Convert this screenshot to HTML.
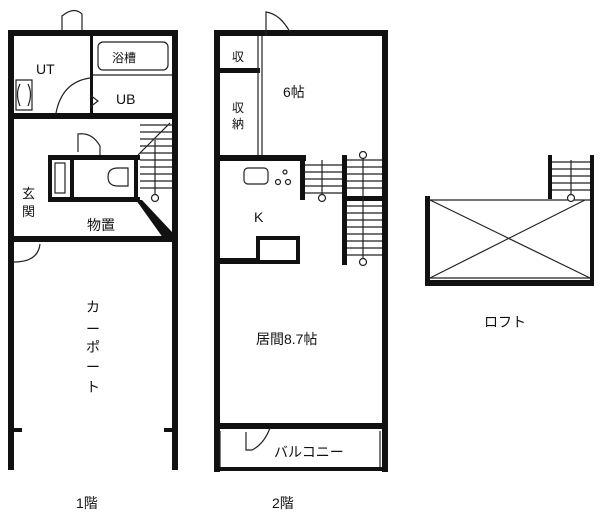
<!DOCTYPE html>
<html><head><meta charset="utf-8"><style>
html,body{margin:0;padding:0;background:#fff;}
svg{display:block;}
text{font-family:"Liberation Sans","Noto Sans CJK JP",sans-serif;fill:#111;}
</style></head><body>
<svg width="600" height="530" viewBox="0 0 600 530" xmlns="http://www.w3.org/2000/svg">
<rect width="600" height="530" fill="#fff"/>
<g fill="#111">
<rect x="8" y="30" width="170" height="6"/>
<rect x="8" y="30" width="6" height="440"/>
<rect x="172" y="30" width="6" height="440"/>
<rect x="90" y="36" width="3" height="80"/>
<rect x="8" y="113" width="170" height="6"/>
<rect x="48" y="155" width="92" height="5"/>
<rect x="48" y="155" width="4" height="45"/>
<rect x="70" y="158" width="4" height="42"/>
<rect x="48" y="197" width="92" height="5"/>
<rect x="134" y="155" width="4" height="45"/>
<rect x="8" y="236" width="170" height="6"/>
<rect x="14" y="428" width="8" height="4"/>
<rect x="164" y="428" width="8" height="4"/>
<polygon points="136,200 142,200 172,232 172,242 166,242"/>
<rect x="214" y="30" width="174" height="6"/>
<rect x="214" y="30" width="6" height="442"/>
<rect x="382" y="30" width="6" height="442"/>
<rect x="220" y="68" width="40" height="5"/>
<rect x="214" y="155" width="92" height="6"/>
<rect x="300" y="155" width="5" height="45"/>
<rect x="342" y="155" width="5" height="110"/>
<rect x="345" y="196" width="40" height="5"/>
<rect x="214" y="258" width="44" height="6"/>
<rect x="214" y="423" width="174" height="6"/>
<rect x="214" y="467" width="174" height="4"/>
<rect x="425" y="196" width="5" height="90"/>
<rect x="590" y="155" width="4" height="131"/>
<rect x="425" y="280" width="169" height="6"/>
<rect x="548" y="155" width="4" height="44"/>
</g>
<g fill="none" stroke="#222" stroke-width="1.2">
<path d="M62,30 L62,16 Q74,6 82,14 L82,30"/>
<rect x="98" y="42" width="70" height="28" rx="5"/>
<line x1="93" y1="75" x2="172" y2="75"/>
<path d="M16,80 h16 v30 h-16 z M20,84 q-5,10 0,22 M28,84 q5,10 0,22"/>
<path d="M90,78 Q62,82 56,113"/>
<path d="M90,95 l8,6 l-8,6"/>
<path d="M78,152 L78,134 Q92,132 100,146 L100,155"/>
<path d="M140,125 h32 M140,132 h32 M140,139 h32 M140,146 h32 M140,153 h32 M140,160 h32 M140,167 h32 M140,174 h32 M140,181 h32 M140,188 h32"/>
<line x1="138" y1="155" x2="170" y2="123"/>
<line x1="155" y1="140" x2="155" y2="198"/>
<circle cx="155" cy="198" r="3.5" fill="#fff"/>
<rect x="55" y="163" width="10" height="30"/>
<path d="M118,168 h10 v18 h-10 q-10,0 -10,-9 q0,-9 10,-9z"/>
<path d="M14,262 Q38,262 40,244"/>
<path d="M266,36 L266,12 Q280,14 290,32"/>
<line x1="258" y1="36" x2="258" y2="155"/>
<line x1="262" y1="36" x2="262" y2="155"/>
<rect x="244" y="168" width="24" height="16" rx="4"/>
<circle cx="278" cy="182" r="2.5"/><circle cx="288" cy="182" r="2.5"/><circle cx="285" cy="172" r="2"/>
<path d="M305,165 h37 M305,172 h37 M305,179 h37 M305,186 h37 M305,193 h37"/>
<line x1="322" y1="160" x2="322" y2="198"/>
<circle cx="322" cy="198" r="3.5" fill="#fff"/>
<path d="M347,160 h35 M347,167 h35 M347,174 h35 M347,181 h35 M347,188 h35 M347,206 h35 M347,213 h35 M347,220 h35 M347,227 h35 M347,234 h35 M347,241 h35 M347,248 h35 M347,255 h35"/>
<line x1="363" y1="155" x2="363" y2="262"/>
<circle cx="363" cy="155" r="3.5" fill="#fff"/>
<circle cx="363" cy="262" r="3.5" fill="#fff"/>
<path d="M246,432 v18 h6 q12,-6 18,-22"/>
<line x1="220" y1="431" x2="220" y2="467"/>
<line x1="380" y1="431" x2="380" y2="467"/>
<line x1="430" y1="200" x2="590" y2="200"/>
<line x1="430" y1="278" x2="590" y2="278"/>
<line x1="430" y1="200" x2="590" y2="278"/>
<line x1="430" y1="278" x2="585" y2="200"/>
<path d="M552,162 h38 M552,169 h38 M552,176 h38 M552,183 h38 M552,190 h38"/>
<line x1="571" y1="160" x2="571" y2="198"/>
<circle cx="571" cy="198" r="3.5" fill="#fff"/>
</g>
<rect x="258" y="238" width="40" height="24" fill="none" stroke="#111" stroke-width="4"/>
<g font-size="14">
<text x="36" y="74">UT</text>
<text x="112" y="62" font-size="12">浴槽</text>
<text x="116" y="104">UB</text>
<text x="22" y="198" font-size="13">玄</text>
<text x="22" y="216" font-size="13">関</text>
<text x="87" y="230">物置</text>
<text x="86" y="312">カ</text>
<text x="86" y="334">ー</text>
<text x="86" y="352">ポ</text>
<text x="86" y="372">ー</text>
<text x="86" y="392">ト</text>
<text x="76" y="508">1階</text>
<text x="232" y="61" font-size="12">収</text>
<text x="232" y="112" font-size="12">収</text>
<text x="232" y="128" font-size="12">納</text>
<text x="283" y="97">6帖</text>
<text x="254" y="222">K</text>
<text x="256" y="344">居間8.7帖</text>
<text x="274" y="457">バルコニー</text>
<text x="272" y="508">2階</text>
<text x="484" y="327">ロフト</text>
</g>
</svg>
</body></html>
